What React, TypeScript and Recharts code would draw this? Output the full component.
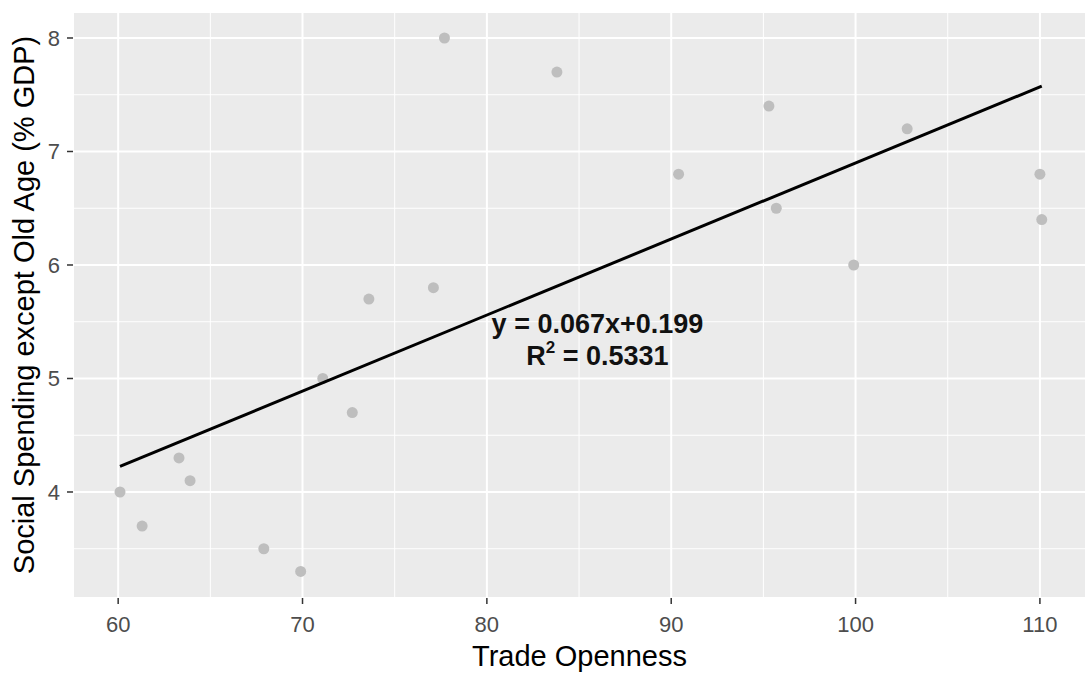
import React from 'react';
import {
  ScatterChart,
  Scatter,
  XAxis,
  YAxis,
  CartesianGrid,
  ReferenceLine,
} from 'recharts';

// Trade openness (x) and social spending except old age, % of GDP (y)
const tradeOpenness = [
  60.1, 61.3, 63.3, 63.9, 67.9, 69.9, 71.1, 72.7, 73.6, 77.1, 77.7, 83.8,
  90.4, 95.3, 95.7, 99.9, 102.8, 110.0, 110.1,
];
const socialSpending = [
  4.0, 3.7, 4.3, 4.1, 3.5, 3.3, 5.0, 4.7, 5.7, 5.8, 8.0, 7.7, 6.8, 7.4, 6.5,
  6.0, 7.2, 6.8, 6.4,
];

// Linear fit shown on the chart
const slope = 0.067;
const intercept = 0.199;
const rSquared = '0.5331';

const xTicks = [60, 70, 80, 90, 100, 110];
const xMinorTicks = [65, 75, 85, 95, 105];
const yTicks = [4, 5, 6, 7, 8];
const yMinorTicks = [3.5, 4.5, 5.5, 6.5, 7.5];

// Annotation anchor (data coordinates)
const labelAnchor = [{ x: 86, y: 5.5 }];

const points = tradeOpenness.map((x, i) => ({ x, y: socialSpending[i] }));
const xMin = Math.min(...tradeOpenness);
const xMax = Math.max(...tradeOpenness);
const fitLine = [xMin, xMax].map((x) => ({ x, y: slope * x + intercept }));

const FONT = '"Liberation Sans", Arial, Helvetica, sans-serif';
const tickStyle = { fill: '#4D4D4D', fontSize: 22, fontFamily: FONT };

const EquationLabel = (props: any) => {
  const { cx, cy } = props;
  if (cx == null || cy == null) return null;
  return (
    <g fontFamily={FONT} fontWeight="bold" fill="#111111" textAnchor="middle">
      <text x={cx} y={cy + 11} fontSize={27}>
        {`y = ${slope}x+${intercept}`}
      </text>
      <text x={cx} y={cy + 43} fontSize={27}>
        <tspan>R</tspan>
        <tspan fontSize={17} dy={-12}>2</tspan>
        <tspan dy={12}>{` = ${rSquared}`}</tspan>
      </text>
    </g>
  );
};

const YTitle = (props: any) => {
  const vb = props.viewBox || { x: 0, y: 0, width: 0, height: 0 };
  const cx = vb.x + 34;
  const cy = vb.y + vb.height / 2;
  return (
    <text
      transform={`translate(${cx}, ${cy}) rotate(-90)`}
      textAnchor="middle"
      fontFamily={FONT}
      fontSize={29}
      fill="#000000"
    >
      Social Spending except Old Age (% GDP)
    </text>
  );
};

export default function App() {
  return (
    <div
      style={{
        position: 'absolute',
        left: 0,
        top: 0,
        width: 1086,
        height: 675,
        background: '#ffffff',
        overflow: 'hidden',
      }}
    >
      <ScatterChart
        width={1086}
        height={675}
        margin={{ top: 12, right: 0, bottom: 0, left: 0 }}
      >
        <CartesianGrid
          fill="#EBEBEB"
          fillOpacity={1}
          stroke="#FFFFFF"
          strokeWidth={2}
        />
        {xMinorTicks.map((v) => (
          <ReferenceLine key={`vx${v}`} x={v} stroke="#FFFFFF" strokeWidth={1} />
        ))}
        {yMinorTicks.map((v) => (
          <ReferenceLine key={`hy${v}`} y={v} stroke="#FFFFFF" strokeWidth={1} />
        ))}
        <XAxis
          type="number"
          dataKey="x"
          domain={[57.55, 112.5]}
          ticks={xTicks}
          allowDataOverflow
          axisLine={false}
          tickLine={{ stroke: '#333333', strokeWidth: 1.5 }}
          tickSize={6}
          tickMargin={12}
          tick={tickStyle}
          height={77}
          label={{
            value: 'Trade Openness',
            position: 'insideBottom',
            offset: 9,
            style: { fontFamily: FONT, fontSize: 29, fill: '#000000' },
          }}
        />
        <YAxis
          type="number"
          dataKey="y"
          domain={[3.066, 8.229]}
          ticks={yTicks}
          allowDataOverflow
          axisLine={false}
          tickLine={{ stroke: '#333333', strokeWidth: 1.5 }}
          tickSize={6}
          tickMargin={7}
          tick={tickStyle}
          width={73}
          label={<YTitle />}
        />
        <Scatter
          data={points}
          fill="#BEBEBE"
          isAnimationActive={false}
          shape={(p: any) => <circle cx={p.cx} cy={p.cy} r={5.5} fill="#BEBEBE" />}
        />
        <Scatter
          data={fitLine}
          line={{ stroke: '#000000', strokeWidth: 3 }}
          lineType="joint"
          isAnimationActive={false}
          shape={() => <g />}
        />
        <Scatter
          data={labelAnchor}
          isAnimationActive={false}
          shape={EquationLabel}
        />
      </ScatterChart>
    </div>
  );
}
